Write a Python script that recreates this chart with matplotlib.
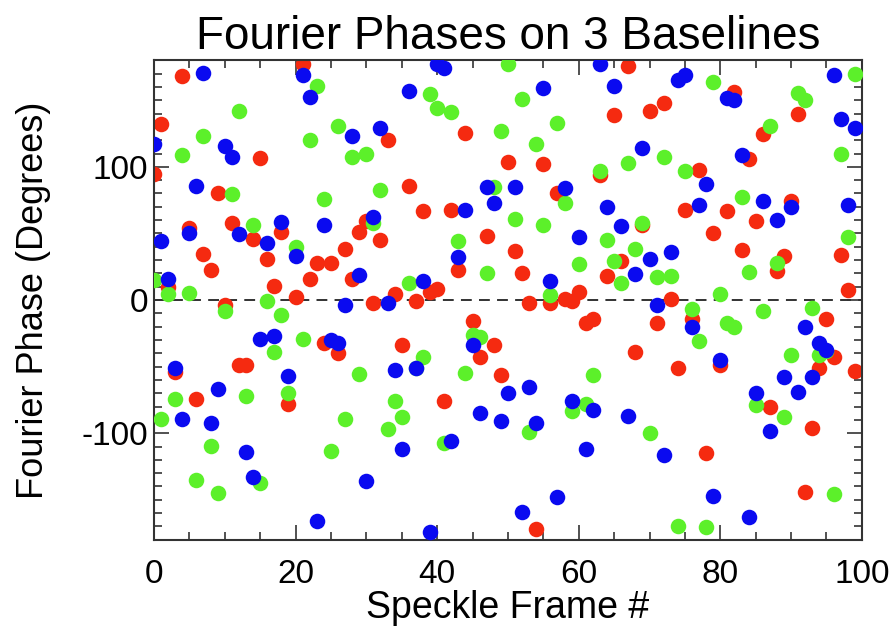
import matplotlib
matplotlib.use("Agg")
import matplotlib.pyplot as plt
from matplotlib.ticker import MultipleLocator

plt.rcParams["font.family"] = ["Liberation Sans", "DejaVu Sans"]
plt.rcParams["axes.unicode_minus"] = False

# frame number 0..99 for each baseline
frames = list(range(100))

phase_red = [
    94.5, 132, 9.5, -54, 168, 54, -74, 34.5, 22.5, 80.5,
    -4, 58, -49, -49, 46, 107, 31, 10.5, 51, -78,
    2.5, 177.5, 16, 28, -32.5, 27.5, -39.5, 38, 15.5, 51,
    59.5, -2, 45, 120.5, 4.5, -34, 86, -1, 67, 6,
    8, -76, 67.5, 22.5, 125.5, -16, -42.5, 48, -34, -56,
    104, 37, 20.5, -2, -172, 102, -2, 80, 1, -1,
    6, -17.5, -14.5, 94, 18, 139, 29, 176, -39, 56,
    142, -17, 148, 0.5, -51, 67.5, -14, 98, -115, 50.5,
    -49, 67, 156, 37.5, 106, 59, 125, -80.5, 22, 33,
    74, 140, -144, -96, -51, -14, -42.5, 34, 7.5, -53,
]

phase_green = [
    15, -89.5, 4.5, -74, 109, 5.5, -135, 123, -109.5, -145,
    -8, 79.5, 142, -72, 56, -137.5, -1, -39, -11, -70,
    40, -29.5, 120, 161, 76, -113, 131, -89.5, 107.5, -55.5,
    110, 57.5, 83, -97, -76, -87.5, 13, -51, -43, 154.5,
    144.5, -107, 141, 44, -55, -26, -27.5, 20.5, 85, 127,
    177, 61, 151, -99, 117, 56, 4, 133, 73, -83,
    27, -78, -56, 97, 45, 29, 13, 103, 38, 57.5,
    -100, 17, 107.5, 18, -170, 97, -7, -31, -170.5, 164,
    4.5, -17, -20, 77, 21, -79, -8, 131, 27.5, -88,
    -41, 155.5, 150, -6, -41, -38, -146, 110, 47, 170,
]

phase_blue = [
    117, 44, 16, -51, -89, 50.5, 85.5, 170.5, -92.5, -67,
    115.5, 107.5, 49.5, -114, -133, -29, 43, -27, 58.5, -57,
    33, 169, 152.5, -166, 56, -30, -32.5, -4, 123, 19,
    -136, 62.5, 129.5, -2, -52.5, -112, 157, -51, 14, -174,
    177.5, 174, -106, 32, 67.5, -34, -85, 85, 73, -91,
    -69.5, 85, -159.5, -65, -92.5, 159, 14.5, -148, 84, -76,
    47.5, -112, -82.5, 177, 70, 161, 55.5, -87, 19.5, 114,
    31, -4, -116, 36, 165, 169, -20, 71, 87, -147,
    -45, 152, 150.5, 109, -163, -69.5, 74, -98, 60, -57.5,
    70, -69, -20.5, -58, -32, -37.5, 169, 136, 71, 129,
]

fig = plt.figure(figsize=(8.95, 6.35), dpi=100)
ax = fig.add_axes([0.172, 0.150, 0.791, 0.755])

dot = 125
ax.scatter(frames, phase_red, s=dot, color="#f52a10", linewidths=0, zorder=2)
ax.scatter(frames, phase_green, s=dot, color="#5cf02a", linewidths=0, zorder=3)
ax.scatter(frames, phase_blue, s=dot, color="#0a0af0", linewidths=0, zorder=4)

ax.axhline(0, color="#222222", linestyle=(0, (6, 4)), linewidth=1.3, zorder=1)

ax.set_xlim(0, 100)
ax.set_ylim(-180, 180)
ax.xaxis.set_major_locator(MultipleLocator(20))
ax.xaxis.set_minor_locator(MultipleLocator(5))
ax.yaxis.set_major_locator(MultipleLocator(100))
ax.yaxis.set_minor_locator(MultipleLocator(10))
ax.tick_params(which="both", direction="in", top=True, right=True,
               color="#333333", width=1.2)
ax.tick_params(which="major", length=11, labelsize=24)
ax.tick_params(which="minor", length=6)
ax.tick_params(axis="x", which="major", pad=14)
ax.tick_params(axis="y", which="major", pad=4)
for sp in ax.spines.values():
    sp.set_linewidth(1.5)
    sp.set_color("#333333")

ax.set_title("Fourier Phases on 3 Baselines", fontsize=33, pad=8)
ax.set_xlabel("Speckle Frame #", fontsize=27, labelpad=0)
ax.set_ylabel("Fourier Phase (Degrees)", fontsize=26, labelpad=22)

fig.savefig("out.png", dpi=100)
